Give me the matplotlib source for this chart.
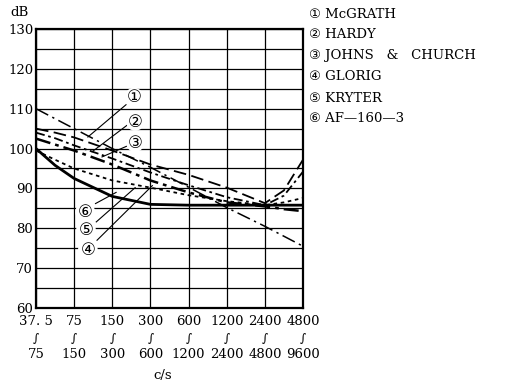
import numpy as np
import matplotlib
matplotlib.use('Agg')
import matplotlib.pyplot as plt
import matplotlib.transforms as mtransforms

# frequency bands (c/s)
band_lo = ['37. 5', '75', '150', '300', '600', '1200', '2400', '4800']
band_hi = ['75', '150', '300', '600', '1200', '2400', '4800', '9600']

# readings along the band axis (0 = first band ... 7 = last band)
x_pos = [0, 0.5, 1, 2, 3, 4, 5, 6, 6.5, 7]
mcgrath = [110, 107.5, 105, 100, 95.3, 90.3, 85.2, 80.5, 78.0, 75.5]
hardy = [105, 104, 102.8, 99.5, 96, 93.4, 90.2, 86.3, 89.5, 97.2]
johns = [104, 102.6, 100.8, 97.5, 94, 90.8, 87.8, 85.8, 88.2, 94.2]
glorig = [100, 95.8, 92.5, 88, 86, 85.8, 85.8, 85.8, 85.8, 85.8]
kryter = [99.5, 97.2, 95, 92, 90.2, 88.3, 86.8, 85.8, 86.5, 87.6]
af160 = [102.5, 101, 99.5, 96, 92, 89, 86.5, 85.5, 84.8, 84.3]

marks = ['①', '②', '③', '④', '⑤', '⑥']
names = ['McGRATH', 'HARDY', 'JOHNS   &   CHURCH', 'GLORIG', 'KRYTER', 'AF—160—3']

serif = ['DejaVu Serif', 'DejaVu Sans']
plt.rcParams['font.family'] = serif

fig = plt.figure(figsize=(5.1, 3.81), dpi=100)
ax = fig.add_axes([36/510, 1-308/381, 267/510, 279/381])

# grid
for v in np.arange(60, 131, 5):
    ax.axhline(v, color='black', lw=0.9, zorder=1)
for i in range(8):
    ax.axvline(i, color='black', lw=0.9, zorder=1)

ax.plot(x_pos, mcgrath, color='black', lw=1.1, ls=(0, (9, 3, 1.5, 3)), zorder=3)
ax.plot(x_pos, hardy, color='black', lw=1.3, ls=(0, (7, 3)), zorder=3)
ax.plot(x_pos, johns, color='black', lw=1.3, ls=(0, (5, 2, 1.5, 2)), zorder=3)
ax.plot(x_pos, glorig, color='black', lw=2.0, ls='-', zorder=3)
ax.plot(x_pos, kryter, color='black', lw=1.3, ls=(0, (2, 2)), zorder=3)
ax.plot(x_pos, af160, color='black', lw=1.8, ls=(0, (6, 2, 1.5, 2)), zorder=3)

ax.set_xlim(0, 7)
ax.set_ylim(60, 130)
ax.set_yticks(np.arange(60, 131, 10))
ax.set_xticks(range(8))
ax.set_xticklabels([])
ax.tick_params(axis='x', length=0)
ax.tick_params(axis='y', length=0, labelsize=9.5, pad=2)
for s in ax.spines.values():
    s.set_linewidth(1.6)

# band labels: low edge, range sign, high edge
trans = mtransforms.blended_transform_factory(ax.transData, ax.transAxes)
for i, (lo, hi) in enumerate(zip(band_lo, band_hi)):
    ax.text(i, -0.048, lo, transform=trans, ha='center', va='center', fontsize=9.5)
    ax.text(i, -0.108, '∫', transform=trans, ha='center', va='center', fontsize=8.5)
    ax.text(i, -0.168, hi, transform=trans, ha='center', va='center', fontsize=9.5)

# circled number labels with leader lines
labels_up = [(2.57, 113.0, 2.36, 111.0, 1.36, 102.9),
             (2.60, 106.7, 2.38, 105.8, 1.47, 99.2),
             (2.60, 101.4, 2.38, 100.6, 1.73, 97.9)]
for k, (tx, ty, x0, y0, x1, y1) in enumerate(labels_up):
    ax.plot([x0, x1], [y0, y1], color='black', lw=0.8, zorder=4)
    ax.text(tx, ty, marks[k], ha='center', va='center', fontsize=12,
            family=['DejaVu Sans'], zorder=5,
            bbox=dict(boxstyle='circle,pad=0.0', fc='white', ec='none'))

labels_low = [(1.36, 74.6, 1.60, 77.0, 3.05, 90.7),
              (1.31, 79.6, 1.58, 81.6, 2.60, 90.2),
              (1.29, 84.1, 1.56, 86.2, 2.10, 89.0)]
for k, (tx, ty, x0, y0, x1, y1) in zip([3, 4, 5], labels_low):
    ax.plot([x0, x1], [y0, y1], color='black', lw=0.8, zorder=4)
    ax.text(tx, ty, marks[k], ha='center', va='center', fontsize=12,
            family=['DejaVu Sans'], zorder=5,
            bbox=dict(boxstyle='circle,pad=0.05', fc='white', ec='none'))

fig.text(20/510, 1-13/381, 'dB', ha='center', va='center', fontsize=9.5)
fig.text(163/510, 1-375/381, 'c/s', ha='center', va='center', fontsize=9.5)

# legend at right
for k in range(6):
    fig.text(309/510, 1-(14 + 21*k)/381, marks[k] + ' ' + names[k],
             ha='left', va='center', fontsize=9.5, family=serif)

fig.savefig('out.png', dpi=100)
